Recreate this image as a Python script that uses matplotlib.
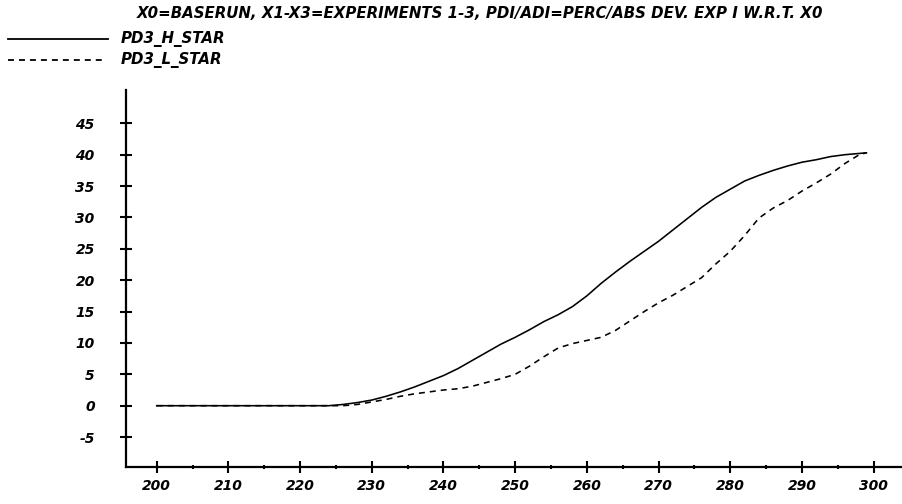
import matplotlib
matplotlib.use("Agg")
import matplotlib.pyplot as plt
from matplotlib.lines import Line2D
from matplotlib.ticker import MultipleLocator

plt.rcParams['lines.scale_dashes'] = False
plt.rcParams['axes.unicode_minus'] = False

title = "X0=BASERUN, X1-X3=EXPERIMENTS 1-3, PDI/ADI=PERC/ABS DEV. EXP I W.R.T. X0"
series_names = ["PD3_H_STAR", "PD3_L_STAR"]

x_h = [200, 224, 226, 228, 230, 232, 234, 236, 238, 240, 242, 244, 246, 248, 250,
       252, 254, 256, 258, 260, 262, 264, 266, 268, 270, 272, 274, 276, 278, 280,
       282, 284, 286, 288, 290, 292, 294, 296, 298, 299]
h_star = [0, 0, 0.2, 0.5, 0.9, 1.5, 2.2, 3.0, 3.9, 4.8, 5.9, 7.2, 8.5, 9.8, 10.9,
          12.1, 13.4, 14.5, 15.8, 17.5, 19.5, 21.3, 23.0, 24.6, 26.2, 28.0, 29.8, 31.6, 33.2, 34.5,
          35.8, 36.7, 37.5, 38.2, 38.8, 39.2, 39.7, 40.0, 40.2, 40.3]

x_l = [200, 226, 228, 230, 232, 234, 236, 238, 240, 242, 244, 246, 248, 250,
       252, 254, 256, 258, 260, 262, 264, 266, 268, 270, 272, 274, 276, 278, 280,
       282, 284, 286, 288, 290, 292, 294, 296, 298, 299]
l_star = [0, 0, 0.2, 0.6, 1.0, 1.5, 1.9, 2.2, 2.5, 2.7, 3.1, 3.7, 4.3, 5.0,
          6.3, 7.8, 9.2, 9.9, 10.4, 10.9, 12.0, 13.5, 15.0, 16.4, 17.6, 19.0, 20.4, 22.6, 24.6,
          27.1, 29.9, 31.5, 32.7, 34.2, 35.5, 36.9, 38.6, 40.0, 40.3]

x_ticks = list(range(200, 301, 10))
y_ticks = list(range(-5, 46, 5))

W, H = 903, 504
fig = plt.figure(figsize=(W / 100, H / 100), dpi=100)
ax_left, ax_right, ax_bottom, ax_top = 126, 903, 466.7, 90
ax = fig.add_axes([ax_left / W, 1 - ax_bottom / H, (ax_right - ax_left) / W, (ax_bottom - ax_top) / H])

font = dict(family="DejaVu Sans", weight="bold", style="italic")

ax.plot(x_h, h_star, color="black", lw=1.15, solid_joinstyle="round")
ax.plot(x_l, l_star, color="black", lw=1.15, linestyle=(0, (4.3, 3.6)))

ax.set_xlim(195.72, 304.1)
ax.set_ylim(-9.72, 50.31)

for s in ["top", "right"]:
    ax.spines[s].set_visible(False)
for s in ["left", "bottom"]:
    ax.spines[s].set_linewidth(1.6)

ax.set_xticks(x_ticks)
ax.set_yticks(y_ticks)
ax.xaxis.set_minor_locator(MultipleLocator(5))
ax.tick_params(axis="both", which="major", direction="inout", length=9, width=1.5)
ax.tick_params(axis="x", which="minor", direction="inout", length=3.5, width=1.5)
ax.tick_params(axis="x", which="major", pad=4)
ax.tick_params(axis="y", which="major", pad=18)
for lab in ax.get_xticklabels() + ax.get_yticklabels():
    lab.set_fontfamily(font["family"])
    lab.set_fontweight("bold")
    lab.set_fontstyle("italic")
    lab.set_fontsize(10)

fig.text(480 / W, 1 - 14 / H, title, ha="center", va="center", fontsize=10.8, **font)

fig.add_artist(Line2D([8 / W, 108 / W], [1 - 39.3 / H, 1 - 39.3 / H], color="black", lw=1.3))
fig.add_artist(Line2D([8 / W, 104 / W], [1 - 60 / H, 1 - 60 / H], color="black", lw=1.3,
                      linestyle=(0, (4.3, 3.6))))
fig.text(121 / W, 1 - 39.3 / H, series_names[0], ha="left", va="center", fontsize=10.8, **font)
fig.text(121 / W, 1 - 60 / H, series_names[1], ha="left", va="center", fontsize=10.8, **font)

fig.savefig("out.png", dpi=100)
